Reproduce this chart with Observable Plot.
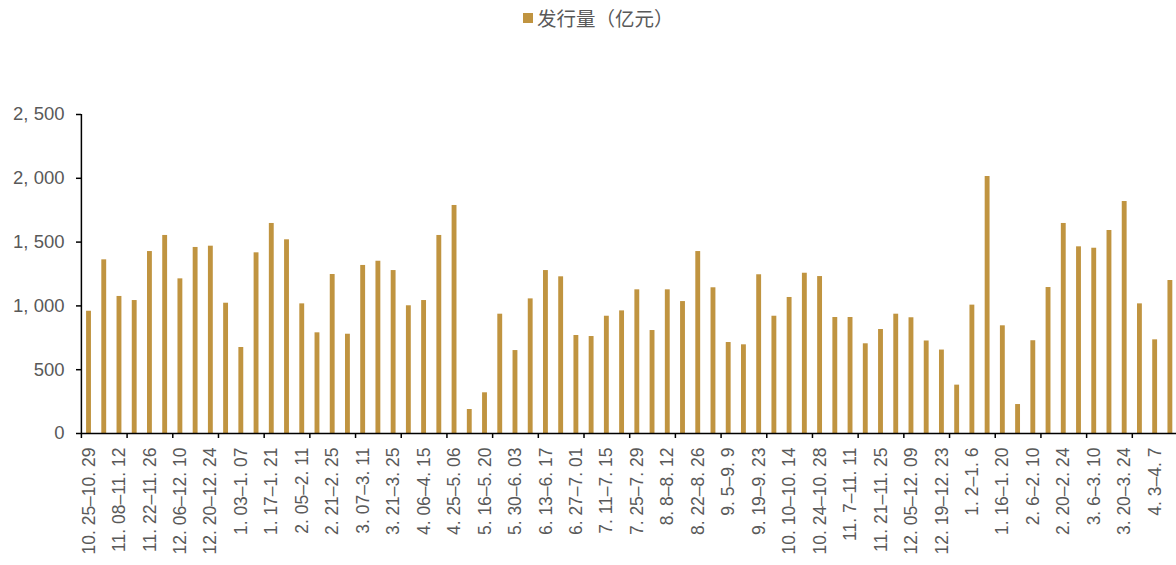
<!DOCTYPE html>
<html>
<head>
<meta charset="utf-8">
<script src="https://cdn.jsdelivr.net/npm/d3@7"></script>
<script src="https://cdn.jsdelivr.net/npm/@observablehq/plot@0.6"></script>
<style>
  body { margin: 0; background: #fff; }
  #legend { position: relative; height: 36px; }
  #legend .sw { position: absolute; left: 523px; top: 13px; width: 10px; height: 10px; background: #C09440; }
  #legend .tx { position: absolute; left: 537px; top: 4px; font-family: "Noto Sans CJK SC", sans-serif; font-size: 19.5px; line-height: 28px; color: #595959; }
</style>
</head>
<body>
<div id="legend"><span class="sw"></span><span class="tx">发行量（亿元）</span></div>
<div id="chart"></div>
<script>
const seriesName = "发行量（亿元）";
const values = [
  958, 1361, 1074, 1042, 1426, 1552, 1212, 1458, 1468, 1021,
  674, 1416, 1646, 1518, 1016, 789, 1246, 778, 1317, 1350,
  1277, 1001, 1042, 1552, 1787, 188, 319, 935, 650, 1055,
  1277, 1228, 768, 760, 919, 961, 1126, 807, 1126, 1034,
  1426, 1142, 713, 695, 1244, 919, 1066, 1256, 1230, 909,
  909, 703, 815, 935, 907, 725, 654, 379, 1006, 2014,
  844, 227, 727, 1144, 1646, 1463, 1452, 1591, 1818, 1016,
  734, 1199
];
const labels = [
  "10.25-10.29", "11.08-11.12", "11.22-11.26", "12.06-12.10", "12.20-12.24",
  "1.03-1.07", "1.17-1.21", "2.05-2.11", "2.21-2.25", "3.07-3.11",
  "3.21-3.25", "4.06-4.15", "4.25-5.06", "5.16-5.20", "5.30-6.03",
  "6.13-6.17", "6.27-7.01", "7.11-7.15", "7.25-7.29", "8.8-8.12",
  "8.22-8.26", "9.5-9.9", "9.19-9.23", "10.10-10.14", "10.24-10.28",
  "11.7-11.11", "11.21-11.25", "12.05-12.09", "12.19-12.23", "1.2-1.6",
  "1.16-1.20", "2.6-2.10", "2.20-2.24", "3.6-3.10", "3.20-3.24",
  "4.3-4.7"
];
const yTicks = [0, 500, 1000, 1500, 2000, 2500];

const bars = values.map((v, i) => ({i, v}));
const labelRows = labels.map((t, k) => ({pos: 2 * k + 0.5, t}));
const fmtLabel = s => s.replace(/\./g, ". ").replace("-", "–");
const fmtY = d => d3.format(",")(d).replace(",", ", ");
const n = values.length;

const chart = Plot.plot({
  width: 1176,
  height: 529,
  marginTop: 78,
  marginBottom: 132,
  marginLeft: 81,
  marginRight: 0,
  style: {fontFamily: "'Liberation Sans', Arial, sans-serif", background: "#fff", overflow: "visible"},
  x: {type: "linear", domain: [0, n], range: [80.9, 1177.5], axis: null, label: null},
  y: {domain: [0, 2500], axis: null, label: null},
  marks: [
    Plot.rectY(bars, {x1: d => d.i + 0.34, x2: d => d.i + 0.66, y: "v", fill: "#C09440"}),
    Plot.axisY({ticks: yTicks, label: null, tickSize: 5, tickPadding: 12, tickFormat: fmtY, fontSize: 18.5, fill: "#595959", stroke: "#000", strokeWidth: 1.5}),
    Plot.axisX({ticks: d3.range(0, n, 3), label: null, tickSize: 5, tickFormat: () => "", stroke: "#000", strokeWidth: 1.5}),
    Plot.ruleX([0], {y1: 0, y2: 2500, stroke: "#000", strokeWidth: 1.5}),
    Plot.ruleY([0], {x1: 0, x2: n, stroke: "#000", strokeWidth: 1.5}),
    Plot.text(labelRows, {x: "pos", y: () => 0, text: d => fmtLabel(d.t), rotate: -90, textAnchor: "end", dy: 14, fontSize: 17.5, fill: "#595959"})
  ]
});
document.getElementById("chart").appendChild(chart);
</script>
</body>
</html>
